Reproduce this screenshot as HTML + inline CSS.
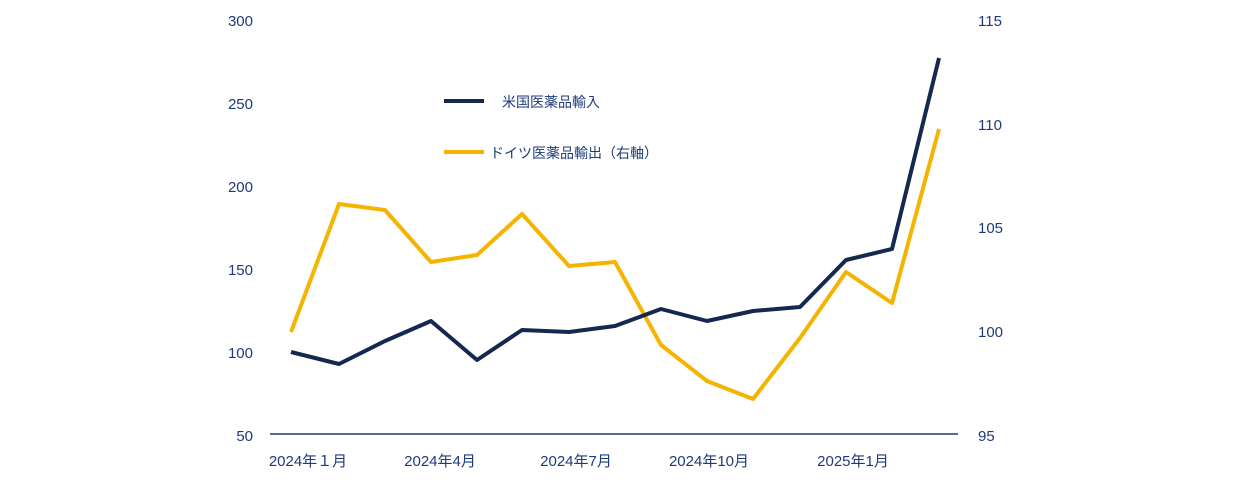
<!DOCTYPE html>
<html><head><meta charset="utf-8"><style>
html,body{margin:0;padding:0;background:#fff;}
svg text{font-family:"Liberation Sans","Noto Sans CJK JP",sans-serif;font-size:15px;fill:#1f3a7a;}
</style></head><body>
<svg width="1233" height="481" viewBox="0 0 1233 481" xmlns="http://www.w3.org/2000/svg">
<g text-anchor="end">
<text x="253" y="26">300</text>
<text x="253" y="109">250</text>
<text x="253" y="192">200</text>
<text x="253" y="275">150</text>
<text x="253" y="358">100</text>
<text x="253" y="441">50</text>
</g>
<g text-anchor="start">
<text x="978" y="26">115</text>
<text x="978" y="130">110</text>
<text x="978" y="233">105</text>
<text x="978" y="337">100</text>
<text x="978" y="441">95</text>
</g>
<line x1="270" y1="434" x2="958" y2="434" stroke="#1f3a7a" stroke-width="1.5"/>
<g text-anchor="middle">
<text x="308" y="466">2024年１月</text>
<text x="440" y="466">2024年4月</text>
<text x="576" y="466">2024年7月</text>
<text x="709" y="466">2024年10月</text>
<text x="853" y="466">2025年1月</text>
</g>
<polyline fill="none" stroke="#f5b400" stroke-width="4" stroke-linejoin="round" points="291,332 339,204 385,210 431,262 477,255 522,214 569,266 615,262 661,345 707,381 753,399 800,338 846,272 892,303 939,129"/>
<polyline fill="none" stroke="#15284f" stroke-width="4" stroke-linejoin="round" points="291,352 339,364 385,341 431,321 477,360 522,330 569,332 615,326 661,309 707,321 753,311 800,307 846,260 892,249 939,58"/>
<line x1="444" y1="101" x2="484" y2="101" stroke="#15284f" stroke-width="4"/>
<text x="502" y="107" style="font-size:14px">米国医薬品輸入</text>
<line x1="444" y1="152" x2="484" y2="152" stroke="#f5b400" stroke-width="4"/>
<text x="490" y="158" style="font-size:14px">ドイツ医薬品輸出（右軸）</text>
</svg>
</body></html>
